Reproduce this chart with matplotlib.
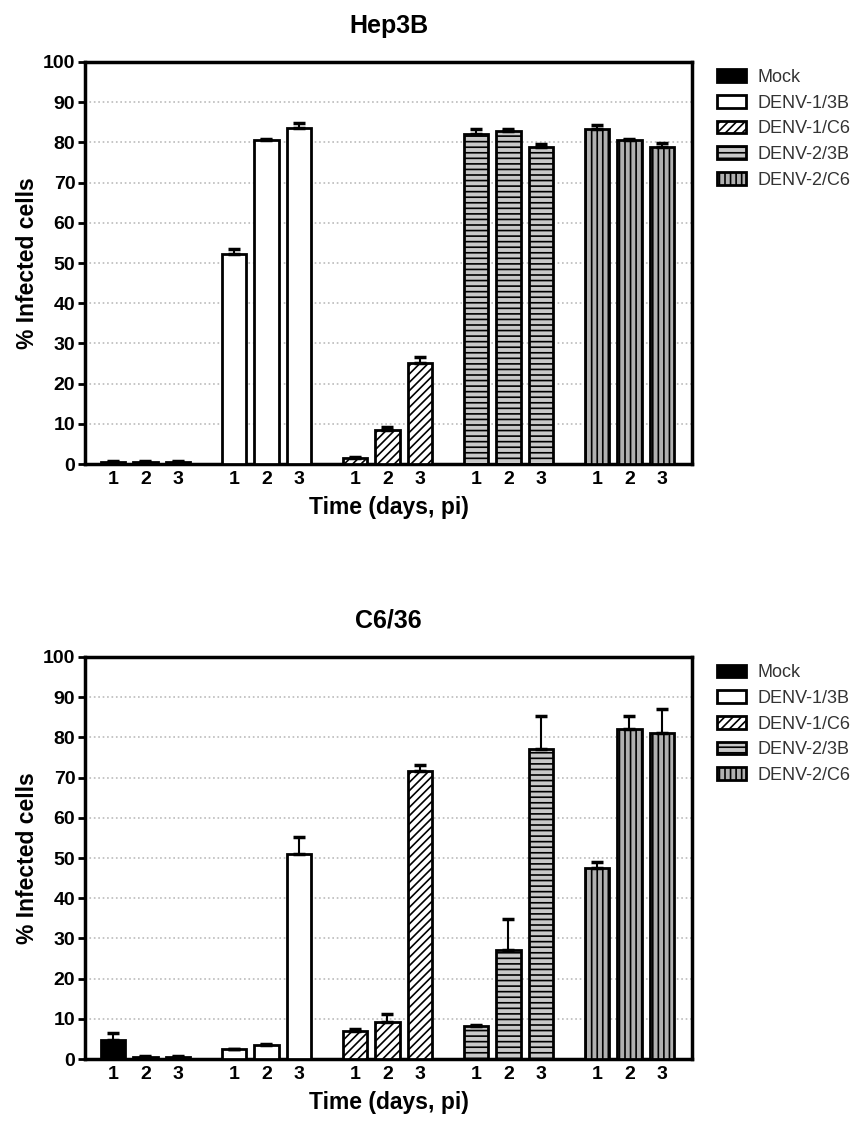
import numpy as np
import matplotlib
matplotlib.use("Agg")
import matplotlib.pyplot as plt

plt.rcParams['font.family'] = ['Liberation Sans', 'DejaVu Sans']
plt.rcParams['hatch.linewidth'] = 1.2

groups = ['Mock', 'DENV-1/3B', 'DENV-1/C6', 'DENV-2/3B', 'DENV-2/C6']
days = ['1', '2', '3']

# Hep3B: values and errors per group (days 1,2,3)
hep_vals = [[0.5, 0.5, 0.5], [52.3, 80.5, 83.6], [1.5, 8.5, 25.2],
            [82.0, 82.8, 78.8], [83.2, 80.6, 78.9]]
hep_err = [[0.2, 0.2, 0.2], [1.3, 0.4, 1.3], [0.3, 0.8, 1.4],
           [1.4, 0.4, 0.7], [1.0, 0.3, 1.0]]

# C6/36
c6_vals = [[4.8, 0.5, 0.5], [2.5, 3.5, 51.0], [7.0, 9.3, 71.7],
           [8.3, 27.0, 77.0], [47.6, 82.2, 81.0]]
c6_err = [[1.6, 0.2, 0.2], [0.1, 0.2, 4.2], [0.4, 1.8, 1.4],
          [0.2, 7.9, 8.3], [1.3, 3.1, 6.0]]

faces = ['black', 'white', 'white', '#c8c8c8', '#b0b0b0']
hatches = [None, None, '////', '---', '|||']

group_step = 3.72


def draw(ax, vals, errs, title):
    xs_all = []
    for g in range(len(groups)):
        xs = g * group_step + np.arange(3)
        xs_all.extend(xs)
        ax.bar(xs, vals[g], width=0.74, color=faces[g], edgecolor='black',
               linewidth=2, hatch=hatches[g], label=groups[g], zorder=3)
        ax.errorbar(xs, vals[g], yerr=[np.zeros(3), errs[g]], fmt='none',
                    ecolor='black', elinewidth=1.5, capsize=4.5, capthick=2.5,
                    zorder=4)
    ax.set_xticks(xs_all)
    ax.set_xticklabels(days * len(groups), fontsize=14, fontweight='bold')
    ax.tick_params(axis='x', length=0, pad=5)
    ax.set_xlim(-0.86, 4 * group_step + 2 + 0.92)
    ax.set_ylim(0, 100)
    ax.set_yticks(np.arange(0, 101, 10))
    ax.set_yticklabels([str(v) for v in range(0, 101, 10)], fontsize=14,
                       fontweight='bold')
    ax.tick_params(axis='y', length=5, width=2, pad=2)
    ax.yaxis.grid(True, linestyle=':', color='#bbbbbb', linewidth=1.2, zorder=0)
    for s in ax.spines.values():
        s.set_linewidth(2.5)
    ax.set_title(title, fontsize=18, fontweight='bold', pad=21)
    ax.set_xlabel('Time (days, pi)', fontsize=16.5, fontweight='bold',
                  labelpad=6)
    ax.set_ylabel('% Infected cells', fontsize=16.5, fontweight='bold',
                  labelpad=3)
    leg = ax.legend(loc='upper left', bbox_to_anchor=(1.03, 1.0),
                    frameon=False, fontsize=13, handlelength=1.6,
                    handleheight=0.7, labelspacing=0.48, handletextpad=0.6,
                    borderaxespad=0)
    for t in leg.get_texts():
        t.set_color('#333333')


fig = plt.figure(figsize=(8.55, 11.24), dpi=100)
ax1 = fig.add_axes([0.0994, 0.587, 0.7099, 0.358])
ax2 = fig.add_axes([0.0994, 0.0578, 0.7099, 0.3577])
draw(ax1, hep_vals, hep_err, 'Hep3B')
draw(ax2, c6_vals, c6_err, 'C6/36')

fig.savefig('out.png', dpi=100)
